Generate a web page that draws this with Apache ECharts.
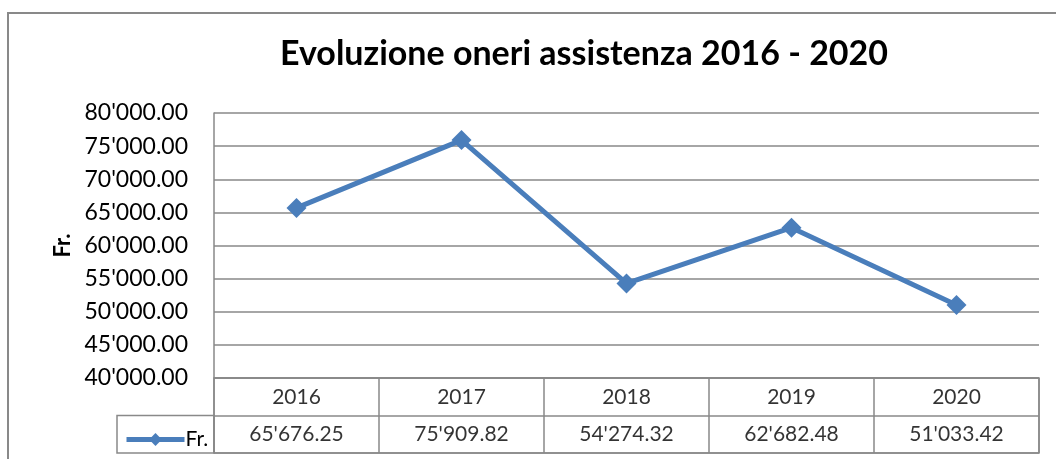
<!DOCTYPE html>
<html>
<head>
<meta charset="utf-8">
<script src="https://cdn.jsdelivr.net/npm/echarts@6/dist/echarts.min.js"></script>
<style>
  html, body { margin: 0; padding: 0; background: #fff; }
  #chart { width: 1056px; height: 459px; }
</style>
</head>
<body>
<div id="chart"></div>
<script>
const years = ['2016', '2017', '2018', '2019', '2020']
const values = [65676.25, 75909.82, 54274.32, 62682.48, 51033.42]
const seriesName = 'Fr.'
const titleText = 'Evoluzione oneri assistenza 2016 - 2020'

const gridColor = '#898989'
const lineColor = '#4a7ebb'
const font = 'Lato, "Open Sans", sans-serif'

// 12345.6 -> 12'345.60
function fmt(n) {
  const parts = n.toFixed(2).split('.')
  return parts[0].replace(/\B(?=(\d{3})+(?!\d))/g, "'") + '.' + parts[1]
}

const chart = echarts.init(document.getElementById('chart'))
chart.setOption({
  animation: false,
  textStyle: { fontFamily: font, color: '#000' },
  title: {
    text: titleText,
    left: 275,
    top: 32,
    textStyle: { fontSize: 34, fontWeight: 'bold', color: '#000', fontFamily: font }
  },
  legend: {
    data: [seriesName],
    left: 119,
    top: 424,
    itemWidth: 58,
    itemHeight: 16,
    itemGap: 0,
    lineStyle: { width: 5 },
    textStyle: { fontSize: 21, color: '#000', padding: [0, 0, 0, -4] }
  },
  grid: [
    { left: 214, top: 113, right: 17, bottom: 81 },
    { left: 214, top: 378, right: 17, height: 75, show: true, borderColor: gridColor, borderWidth: 1.5 }
  ],
  xAxis: [
    {
      type: 'category',
      gridIndex: 0,
      data: years,
      boundaryGap: true,
      axisLine: { show: false },
      axisTick: { show: false },
      axisLabel: { show: false }
    },
    {
      type: 'category',
      gridIndex: 1,
      data: years,
      boundaryGap: true,
      axisLine: { show: false },
      axisTick: { show: false },
      axisLabel: { show: false },
      splitLine: { show: true, lineStyle: { color: gridColor, width: 1.5 } }
    }
  ],
  yAxis: [
    {
      type: 'value',
      gridIndex: 0,
      min: 40000,
      max: 80000,
      interval: 5000,
      name: seriesName,
      nameLocation: 'middle',
      nameRotate: 90,
      nameGap: 140,
      nameTextStyle: { fontSize: 22, fontWeight: 'bold', color: '#000' },
      axisLine: { show: true, lineStyle: { color: gridColor, width: 1.5 } },
      axisTick: { show: false },
      axisLabel: { fontSize: 23, color: '#000', margin: 26, formatter: v => fmt(v) },
      splitLine: { show: true, lineStyle: { color: gridColor, width: 1.5 } }
    },
    {
      type: 'value',
      gridIndex: 1,
      min: 0,
      max: 2,
      interval: 1,
      axisLine: { show: false },
      axisTick: { show: false },
      axisLabel: { show: false },
      splitLine: { show: true, lineStyle: { color: gridColor, width: 1.5 } }
    }
  ],
  series: [
    {
      name: seriesName,
      type: 'line',
      xAxisIndex: 0,
      yAxisIndex: 0,
      data: values,
      symbol: 'diamond',
      symbolSize: 20,
      lineStyle: { color: lineColor, width: 5 },
      itemStyle: { color: lineColor }
    },
    {
      name: 'years',
      type: 'scatter',
      xAxisIndex: 1,
      yAxisIndex: 1,
      symbolSize: 0,
      silent: true,
      data: years.map((y, i) => [i, 1.5]),
      label: { show: true, position: 'inside', fontSize: 21, color: '#000', formatter: p => years[p.dataIndex] }
    },
    {
      name: 'table',
      type: 'scatter',
      xAxisIndex: 1,
      yAxisIndex: 1,
      symbolSize: 0,
      silent: true,
      data: values.map((v, i) => [i, 0.5]),
      label: { show: true, position: 'inside', fontSize: 21, color: '#000', formatter: p => fmt(values[p.dataIndex]) }
    }
  ],
  graphic: [
    // outer chart frame
    { type: 'rect', shape: { x: 8, y: 13, width: 1100, height: 500 }, style: { fill: 'none', stroke: gridColor, lineWidth: 2 }, silent: true },
    // legend key cell of the data table
    { type: 'rect', shape: { x: 117, y: 415.5, width: 97, height: 37.5 }, style: { fill: 'none', stroke: gridColor, lineWidth: 1.5 }, silent: true }
  ]
})
</script>
</body>
</html>
